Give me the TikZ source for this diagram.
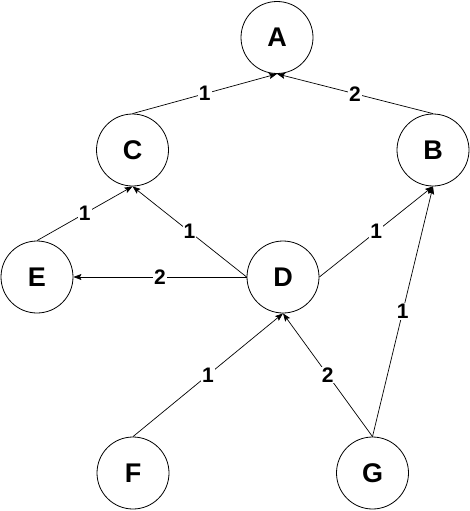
\documentclass[tikz,border=0pt]{standalone}
\usepackage{fontspec}
\setmainfont{Liberation Sans}
\usetikzlibrary{arrows.meta}
\begin{document}
\begin{tikzpicture}[x=1pt,y=-1pt,
  vertex/.style={circle,draw,line width=0.8pt,minimum size=72pt,inner sep=0pt,font=\fontsize{27}{27}\selectfont\bfseries},
  edge/.style={line width=0.7pt,-{Stealth[length=8pt,width=6pt,inset=1.5pt]}},
  wt/.style={fill=white,inner sep=1pt,font=\fontsize{21}{21}\selectfont\bfseries}]
\useasboundingbox (0,0) rectangle (469,511);
\node[vertex] (A) at (277,37.5) {A};
\node[vertex] (C) at (132.5,150) {C};
\node[vertex] (B) at (433,150) {B};
\node[vertex] (E) at (37,277) {E};
\node[vertex] (D) at (283,277) {D};
\node[vertex] (F) at (133,473) {F};
\node[vertex] (G) at (372.5,473) {G};
\draw[edge] (C.north) -- node[wt] {1} (A.south);
\draw[edge] (B.north) -- node[wt] {2} (A.south);
\draw[edge] (E.north) -- node[wt] {1} (C.south);
\draw[edge] (D.west) -- node[wt] {1} (C.south);
\draw[edge] (D.west) -- node[wt] {2} (E.east);
\draw[edge] (D.east) -- node[wt] {1} (B.south);
\draw[edge] (G.north) -- node[wt] {1} (B.south);
\draw[edge] (F.north) -- node[wt] {1} (D.south);
\draw[edge] (G.north) -- node[wt] {2} (D.south);
\end{tikzpicture}
\end{document}
